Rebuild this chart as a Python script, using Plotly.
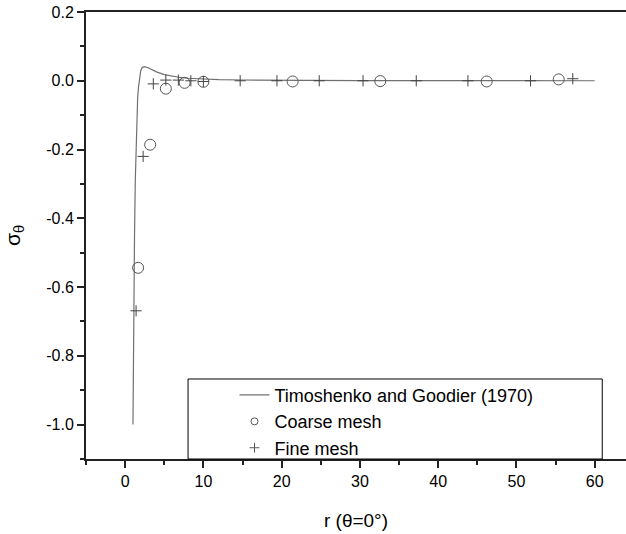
import plotly.graph_objects as go

# Analytical curve
curve_r = [1.0, 1.03, 1.06, 1.1, 1.15, 1.2, 1.3, 1.4, 1.5, 1.6, 1.7, 1.8, 2.0, 2.2, 2.5,
           3.0, 3.5, 4.0, 5.0, 6.0, 7.0, 8.0, 10.0, 12.0, 15.0, 20.0, 30.0, 40.0, 50.0, 60.0]
curve_s = [-1.0, -0.88, -0.78, -0.67, -0.55, -0.45, -0.29, -0.18, -0.10, -0.05, -0.02, 0.0,
           0.030, 0.039, 0.041, 0.037, 0.031, 0.026, 0.018, 0.013, 0.0096, 0.0073, 0.0047,
           0.0033, 0.0022, 0.0012, 0.0006, 0.0003, 0.0002, 0.0001]

# Coarse mesh (circles)
coarse_r = [1.66, 3.2, 5.2, 7.6, 10.0, 21.4, 32.6, 46.2, 55.4]
coarse_s = [-0.544, -0.186, -0.023, -0.006, -0.003, -0.002, -0.001, -0.002, 0.004]

# Fine mesh (plus)
fine_r = [1.4, 2.3, 3.6, 5.2, 6.8, 8.4, 10.0, 14.7, 19.4, 24.8, 30.4, 37.2, 43.8, 51.8, 57.2]
fine_s = [-0.669, -0.22, -0.009, 0.002, 0.002, 0.0, -0.002, 0.0, 0.0, 0.0, 0.0, 0.0, 0.0, 0.0, 0.006]

x_ticks = [0, 10, 20, 30, 40, 50, 60]
y_ticks = [-1.0, -0.8, -0.6, -0.4, -0.2, 0.0, 0.2]
y_labels = ["-1.0", "-0.8", "-0.6", "-0.4", "-0.2", "0.0", "0.2"]

names = ["Timoshenko and Goodier (1970)", "Coarse mesh", "Fine mesh"]

FONT = "Liberation Sans, Arial, sans-serif"
fig = go.Figure()

fig.add_trace(go.Scatter(x=curve_r, y=curve_s, mode="lines",
                         line=dict(color="#707070", width=1.2), showlegend=False))
fig.add_trace(go.Scatter(x=coarse_r, y=coarse_s, mode="markers",
                         marker=dict(symbol="circle-open", size=11, color="#555555",
                                     line=dict(width=1)), showlegend=False))
fig.add_trace(go.Scatter(x=fine_r, y=fine_s, mode="markers",
                         marker=dict(symbol="cross-thin-open", size=8, color="#444444",
                                     line=dict(width=1, color="#444444")), showlegend=False))

# legend entries
fig.add_trace(go.Scatter(x=[None], y=[None], mode="lines", name=names[0],
                         line=dict(color="#707070", width=1.2)))
fig.add_trace(go.Scatter(x=[None], y=[None], mode="markers", name=names[1],
                         marker=dict(symbol="circle-open", size=7, color="#555555",
                                     line=dict(width=1))))
fig.add_trace(go.Scatter(x=[None], y=[None], mode="markers", name=names[2],
                         marker=dict(symbol="cross-thin-open", size=7, color="#555555",
                                     line=dict(width=1, color="#555555"))))

fig.add_shape(type="rect", xref="paper", yref="paper", x0=0.189, x1=0.956, y0=0.0, y1=0.179,
              line=dict(color="black", width=1), fillcolor="white", layer="above")

fig.update_layout(
    width=626, height=534,
    margin=dict(l=86, r=0, t=12, b=75),
    paper_bgcolor="white", plot_bgcolor="white",
    font=dict(family=FONT, color="black", size=16),
    legend=dict(x=0.275, y=0.184, xanchor="left", yanchor="top",
                bgcolor="rgba(0,0,0,0)", borderwidth=0,
                font=dict(size=18, family=FONT), tracegroupgap=0),
    xaxis=dict(range=[-5, 64], tickmode="array", tickvals=x_ticks,
               ticks="outside", ticklen=7, tickwidth=1.5, tickcolor="#222",
               minor=dict(dtick=5, tick0=0, ticks="outside", ticklen=4, tickwidth=1.5, tickcolor="#222"),
               showline=True, linecolor="#222", linewidth=2, mirror=True,
               showgrid=False, zeroline=False,
               tickfont=dict(size=16),
               title=dict(text="r (θ=0°)", font=dict(size=19), standoff=24)),
    yaxis=dict(range=[-1.1, 0.2], tickmode="array", tickvals=y_ticks, ticktext=y_labels,
               ticks="outside", ticklen=7, tickwidth=1.5, tickcolor="#222",
               minor=dict(dtick=0.1, tick0=0, ticks="outside", ticklen=4, tickwidth=1.5, tickcolor="#222"),
               showline=True, linecolor="#222", linewidth=2,
               showgrid=False, zeroline=False,
               tickfont=dict(size=16),
               title=dict(text="σ<sub>θ</sub>", font=dict(size=21), standoff=20)),
)

fig.write_html("out.html")
